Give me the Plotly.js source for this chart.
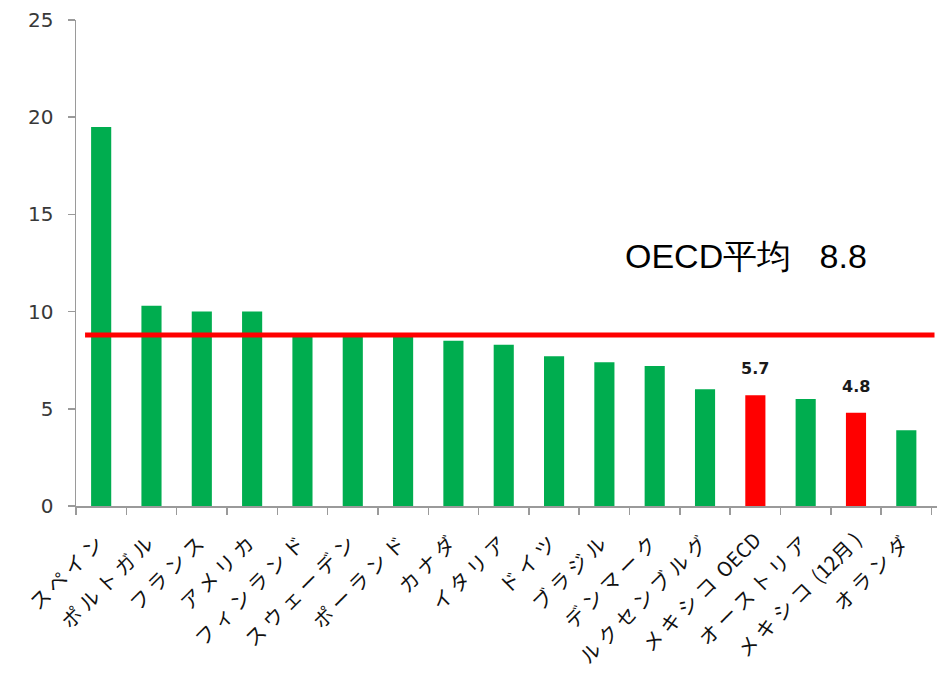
<!DOCTYPE html>
<html>
<head>
<meta charset="utf-8">
<script src="https://cdn.plot.ly/plotly-3.0.1.min.js"></script>
<style>
  html, body { margin: 0; padding: 0; background: #fff; }
  #chart { width: 947px; height: 681px; }
  /* widen the spacing of the rotated katakana labels */
  #chart .xtick text { letter-spacing: 5px; }
</style>
</head>
<body>
<div id="chart"></div>
<script>
// Countries, left to right
const countries = [
  "スペイン", "ポルトガル", "フランス", "アメリカ", "フィンランド",
  "スウェーデン", "ポーランド", "カナダ", "イタリア", "ドイツ",
  "ブラジル", "デンマーク", "ルクセンブルグ", "メキシコ OECD",
  "オーストリア", "メキシコ (12月)", "オランダ"
];

// Values per country
const values = [
  19.5, 10.3, 10.0, 10.0, 8.9,
  8.9, 8.8, 8.5, 8.3, 7.7,
  7.4, 7.2, 6.0, 5.7,
  5.5, 4.8, 3.9
];

// Which bars are highlighted (the Mexico figures)
const highlighted = [
  false, false, false, false, false,
  false, false, false, false, false,
  false, false, false, true,
  false, true, false
];

// OECD average reference level
const oecdAverage = 8.8;
const oecdLabel = "OECD平均";

const yTicks = [0, 5, 10, 15, 20, 25];

const GREEN = "#00AD4F";
const RED = "#FF0000";

const barColors = highlighted.map(h => h ? RED : GREEN);

// Latin letters and digits keep normal spacing inside the wide-spaced labels
const tickLabels = countries.map(c =>
  c.replace(/( ?[A-Za-z0-9()]+)/g, '<span style="letter-spacing:0px">$1</span>')
);

const bars = {
  type: "bar",
  x: countries,
  y: values,
  marker: { color: barColors, line: { width: 0 } },
  hoverinfo: "x+y",
  showlegend: false
};

// Value labels over the highlighted bars
const valueLabels = countries
  .map((c, i) => ({ c, v: values[i], h: highlighted[i] }))
  .filter(d => d.h)
  .map(d => ({
    x: d.c,
    y: d.v,
    xref: "x",
    yref: "y",
    text: d.v.toFixed(1),
    showarrow: false,
    yanchor: "bottom",
    yshift: 15,
    font: { family: "DejaVu Sans, Verdana, sans-serif", size: 16, color: "#1a1a1a", weight: "bold" }
  }));

const layout = {
  width: 947,
  height: 681,
  margin: { l: 76, r: 10, t: 20, b: 175 },
  paper_bgcolor: "#ffffff",
  plot_bgcolor: "#ffffff",
  bargap: 0.6,
  xaxis: {
    type: "category",
    automargin: false,
    showgrid: false,
    showline: true,
    linecolor: "#9a9a9a",
    linewidth: 1.5,
    ticks: "outside",
    tickson: "boundaries",
    ticklen: 7,
    tickcolor: "#9a9a9a",
    tickwidth: 1.5,
    tickangle: -45,
    tickmode: "array",
    tickvals: countries,
    ticktext: tickLabels,
    ticklabelstandoff: 13,
    tickfont: { family: "Noto Sans CJK JP, sans-serif", size: 20, color: "#111111" },
    zeroline: false,
    fixedrange: true
  },
  yaxis: {
    range: [0, 25],
    automargin: false,
    tickvals: yTicks,
    ticktext: yTicks.map(String),
    showgrid: false,
    showline: true,
    linecolor: "#9a9a9a",
    linewidth: 1.5,
    ticks: "outside",
    ticklen: 7,
    tickcolor: "#9a9a9a",
    tickwidth: 1.5,
    ticklabelstandoff: 10,
    tickfont: { family: "DejaVu Sans, Verdana, sans-serif", size: 20, color: "#383838" },
    zeroline: false,
    fixedrange: true
  },
  shapes: [{
    type: "line",
    xref: "x",
    yref: "y",
    x0: -0.32,
    x1: 16.56,
    y0: oecdAverage,
    y1: oecdAverage,
    line: { color: RED, width: 5 },
    layer: "above"
  }],
  annotations: valueLabels.concat([{
    xref: "x",
    yref: "y",
    x: 10.37,
    y: oecdAverage + 4.05,
    text: oecdLabel + "   " + oecdAverage.toFixed(1),
    showarrow: false,
    xanchor: "left",
    yanchor: "middle",
    font: { family: "Liberation Sans, Arial, sans-serif", size: 34, color: "#000000" }
  }])
};

Plotly.newPlot("chart", [bars], layout, { staticPlot: true, displayModeBar: false });
</script>
</body>
</html>
